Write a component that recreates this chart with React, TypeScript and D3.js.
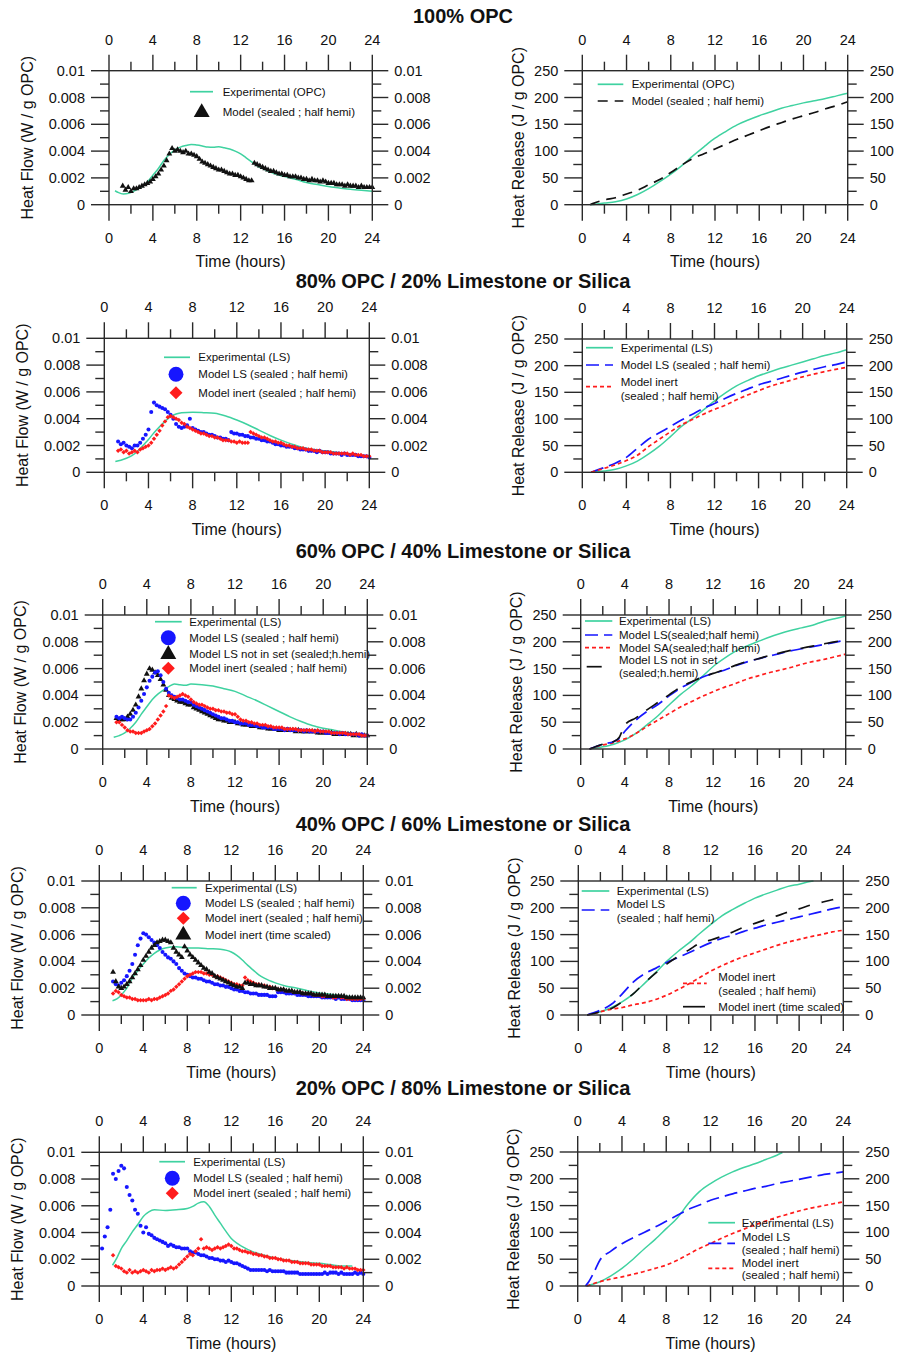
import React from "react";
import * as d3 from "d3";

const FONT = "Arial, 'Liberation Sans', Helvetica, sans-serif";
const GREEN = "#3fd2a0";
const BLUE = "#1616ff";
const RED = "#ff1c1c";
const BLACK = "#111111";
const AXIS = "#2a2a2a";

// ---------- axis ticks ----------
const HOUR_MAJOR = [0, 4, 8, 12, 16, 20, 24];
const HOUR_MINOR = [2, 6, 10, 14, 18, 22];
const FLOW_MAJOR = [0, 0.002, 0.004, 0.006, 0.008, 0.01];
const FLOW_LABELS = ["0", "0.002", "0.004", "0.006", "0.008", "0.01"];
const FLOW_MINOR = [0.001, 0.003, 0.005, 0.007, 0.009];
const REL_MAJOR = [0, 50, 100, 150, 200, 250];
const REL_LABELS = ["0", "50", "100", "150", "200", "250"];
const REL_MINOR = [25, 75, 125, 175, 225];

const TITLES = [
  "100% OPC",
  "80% OPC / 20% Limestone or Silica",
  "60% OPC / 40% Limestone or Silica",
  "40% OPC / 60% Limestone or Silica",
  "20% OPC / 80% Limestone or Silica",
];

// sampling times of model outputs (hours)
const HOURS = [
  0.25, 0.5, 0.75, 1, 1.25, 1.5, 1.75, 2, 2.25, 2.5, 2.75, 3, 3.25, 3.5, 3.75, 4,
  4.25, 4.5, 4.75, 5, 5.25, 5.5, 5.75, 6, 6.25, 6.5, 6.75, 7, 7.25, 7.5, 7.75, 8,
  8.25, 8.5, 8.75, 9, 9.25, 9.5, 9.75, 10, 10.25, 10.5, 10.75, 11, 11.25, 11.5, 11.75, 12,
  12.25, 12.5, 12.75, 13, 13.25, 13.5, 13.75, 14, 14.25, 14.5, 14.75, 15, 15.25, 15.5, 15.75, 16,
  16.25, 16.5, 16.75, 17, 17.25, 17.5, 17.75, 18, 18.25, 18.5, 18.75, 19, 19.25, 19.5, 19.75, 20,
  20.25, 20.5, 20.75, 21, 21.25, 21.5, 21.75, 22, 22.25, 22.5, 22.75, 23, 23.25, 23.5, 23.75, 24,
];

// ---------- heat flow, model outputs (units of 1e-4 W/g OPC), from 1.25 h unless noted ----------
const OPC100_MODEL = [
  14, 11, 13, 10, 12, 12, 13, 14, 15, 16, 17, 19, 21, 23, 26, 29, 33, 38, 42, 40, 41, 40, 39, 40,
  38, 38, 37, 36, 34, 32, 31, 30, 29, 28, 27, 26, 26, 25, 24, 23, 23, 22, 22, 21, 20, 19, 18, 18,
  31, 30, 29, 28, 27, 26, 25, 25, 24, 23, 23, 22, 22, 21, 21, 21, 20, 20, 19, 19, 18, 19, 18, 18,
  17, 18, 17, 16, 16, 16, 15, 15, 15, 14, 15, 14, 14, 14, 13, 14, 13, 13, 13, 13,
];
const OPC80_LS = [
  23, 21, 22, 20, 19, 18, 20, 20, 22, 25, 28, 32, 45, 52, 50, 49, 48, 47, 45, 43, 40, 36, 34, 33,
  34, 35, 40, 33, 32, 31, 30, 30, 29, 28, 28, 27, 26, 26, 25, 25, 24, 30, 29, 29, 28, 28, 27, 27,
  26, 26, 25, 25, 24, 24, 23, 23, 22, 21, 21, 20, 20, 19, 19, 19, 18, 18, 17, 17, 17, 16, 16, 16,
  15, 16, 15, 15, 15, 14, 14, 14, 14, 13, 14, 13, 13, 13, 13, 12, 12, 12, 12, 11,
];
const OPC80_INERT = [
  16, 17, 15, 16, 14, 15, 16, 15, 17, 18, 19, 20, 22, 25, 28, 31, 35, 38, 41, 42, 41, 40, 39, 37,
  36, 34, 33, 32, 31, 30, 29, 29, 28, 27, 27, 26, 26, 25, 24, 24, 24, 23, 23, 22, 23, 22, 22, 22,
  30, 29, 28, 27, 26, 26, 25, 24, 23, 23, 22, 22, 21, 20, 20, 19, 19, 18, 18, 18, 17, 17, 17, 16,
  16, 16, 15, 15, 15, 15, 14, 14, 14, 14, 14, 14, 13, 14, 13, 13, 13, 12, 12, 12,
];
const OPC60_LS = [
  24, 23, 24, 23, 22, 22, 24, 27, 31, 36, 41, 46, 51, 54, 57, 58, 55, 50, 45, 42, 40, 39, 38, 37,
  37, 36, 35, 35, 33, 32, 31, 30, 29, 28, 27, 26, 25, 24, 23, 23, 22, 21, 21, 20, 20, 19, 19, 19,
  18, 18, 18, 17, 17, 16, 16, 16, 16, 15, 15, 15, 15, 14, 15, 14, 14, 14, 14, 14, 13, 14, 13, 13,
  13, 13, 13, 13, 12, 12, 12, 12, 12, 11, 12, 11, 11, 11, 11, 11, 10, 11, 10, 10,
];
const OPC60_LS_NOTSET = [
  23, 22, 22, 22, 24, 26, 29, 33, 39, 45, 51, 56, 60, 59, 57, 55, 52, 48, 44, 40, 38, 37, 36, 35,
  35, 34, 33, 33, 31, 30, 29, 28, 27, 26, 25, 24, 23, 22, 22, 21, 21, 20, 20, 20, 19, 19, 18, 18,
  18, 17, 17, 17, 16, 16, 16, 15, 15, 15, 15, 14, 14, 14, 14, 14, 14, 13, 14, 13, 13, 13, 13, 13,
  13, 12, 12, 12, 12, 12, 12, 11, 11, 11, 11, 11, 11, 11, 10, 11, 10, 10, 10, 10,
];
const OPC60_INERT = [
  20, 20, 18, 16, 14, 13, 13, 12, 12, 12, 13, 14, 15, 17, 19, 22, 25, 28, 32, 40, 39, 38, 39, 40,
  41, 40, 39, 37, 35, 34, 33, 33, 32, 31, 30, 30, 29, 29, 28, 28, 27, 27, 26, 26, 24, 22, 21, 21,
  20, 20, 19, 19, 18, 18, 18, 17, 17, 16, 16, 16, 16, 15, 15, 15, 15, 15, 14, 14, 14, 14, 14, 14,
  13, 14, 13, 13, 13, 13, 12, 12, 12, 12, 12, 12, 11, 11, 11, 11, 11, 10, 10, 10,
];
const OPC40_LS = [
  25, 23, 22, 24, 26, 29, 33, 38, 45, 52, 57, 61, 60, 58, 56, 54, 52, 50, 47, 45, 43, 42, 40, 38,
  35, 33, 31, 30, 29, 28, 28, 27, 27, 26, 25, 25, 24, 23, 23, 22, 22, 21, 21, 20, 19, 19, 18, 18,
  17, 17, 16, 16, 16, 15, 15, 15, 15, 14, 14, 14, 17, 17, 17, 16, 16, 16, 16, 15, 15, 15, 15, 14,
  14, 14, 14, 14, 13, 13, 13, 13, 13, 12, 13, 12, 12, 12, 12, 11, 11, 11, 11, 11,
];
const OPC40_INERT = [
  16, 18, 17, 15, 14, 13, 13, 12, 12, 11, 11, 11, 11, 12, 11, 12, 12, 13, 14, 15, 16, 18, 19, 21,
  23, 25, 27, 29, 30, 31, 32, 32, 32, 31, 31, 30, 30, 29, 29, 28, 27, 26, 25, 24, 23, 23, 22, 22,
  28, 26, 25, 24, 23, 23, 22, 22, 21, 21, 20, 20, 19, 19, 19, 18, 18, 18, 17, 17, 17, 16, 16, 16,
  16, 15, 15, 15, 14, 14, 14, 14, 13, 13, 14, 13, 13, 12, 12, 12, 12, 12, 12, 12,
];
const OPC40_TIMESCALED = [
  32, 25, 21, 20, 21, 23, 25, 28, 31, 34, 37, 41, 44, 47, 50, 52, 54, 55, 56, 56, 55, 54, 50, 47,
  45, 43, 51, 48, 45, 43, 41, 39, 37, 35, 34, 32, 31, 29, 28, 27, 26, 25, 24, 23, 22, 21, 21, 20,
  24, 24, 23, 23, 22, 22, 22, 21, 21, 20, 20, 20, 19, 19, 19, 18, 18, 18, 17, 17, 17, 16, 16, 16,
  16, 15, 15, 15, 15, 15, 14, 14, 14, 14, 14, 14, 14, 13, 13, 13, 13, 13, 13, 13,
];
// starts at 0.25 h
const OPC20_LS = [
  28, 37, 44, 57, 84, 80, 86, 90, 88, 74, 68, 64, 57, 54, 45, 40, 44, 39, 38, 36, 35, 34, 33, 32,
  30, 31, 30, 29, 29, 28, 28, 28, 26, 25, 25, 24, 23, 23, 22, 21, 21, 20, 20, 19, 19, 18, 19, 18,
  17, 17, 16, 15, 14, 13, 12, 12, 12, 12, 12, 12, 11, 12, 11, 11, 11, 11, 11, 10, 10, 10, 10, 10,
  9, 9, 9, 9, 9, 9, 9, 9, 9, 10, 9, 10, 10, 10, 9, 10, 9, 9, 9, 9, 10, 9, 10, 9,
];
const OPC20_INERT = [
  23, 15, 14, 13, 11, 10, 12, 10, 11, 10, 11, 12, 11, 10, 12, 11, 12, 12, 13, 12, 13, 14, 13, 14,
  16, 18, 20, 22, 24, 23, 26, 28, 35, 28, 29, 28, 27, 28, 29, 28, 29, 30, 31, 30, 28, 28, 27, 26,
  26, 25, 25, 24, 24, 23, 23, 22, 22, 21, 21, 21, 20, 20, 19, 19, 19, 18, 18, 18, 17, 17, 17, 17,
  16, 16, 16, 16, 15, 15, 15, 15, 14, 14, 14, 14, 13, 14, 13, 13, 13, 12, 12, 12,
];

// ---------- heat flow, experimental (hour, 1e-4 W/g OPC) ----------
const EXP_FLOW_100: [number, number][] = [
  [0.55, 10.4], [0.8, 9.3], [1.3, 8], [1.8, 8.5], [2.5, 11], [3, 13.5], [3.5, 17], [4, 22], [4.5, 27],
  [5, 33], [5.5, 37.5], [6, 41], [6.5, 43], [7, 44.2], [7.5, 45], [8, 44.5], [8.5, 43.8], [9, 43],
  [9.5, 42.8], [10, 43.2], [10.5, 42.5], [11, 41.5], [11.5, 40], [12, 38], [12.5, 35], [13, 32],
  [13.5, 29], [14, 27], [15, 23.5], [16, 21], [17, 19], [18, 16.5], [19, 15], [20, 13.5], [21, 12.5],
  [22, 11.5], [23, 10.7], [24, 10],
];
const EXP_FLOW_80: [number, number][] = [
  [1, 8], [1.5, 9], [2, 10.5], [2.5, 12.5], [3, 15.5], [3.5, 20], [4, 24.5], [4.5, 29.5], [5, 34],
  [5.5, 38], [6, 41.5], [6.5, 43.5], [7, 44.5], [8, 44.8], [9, 44.5], [10, 44], [11, 42], [12, 39],
  [13, 35.5], [14, 31.5], [15, 27.5], [16, 24], [17, 21], [18, 18.5], [19, 17], [20, 16], [21, 15],
  [22, 14], [23, 12.5], [24, 11],
];
const EXP_FLOW_60: [number, number][] = [
  [1, 8.7], [1.5, 10], [2, 12], [2.5, 15.5], [3, 20], [3.5, 26], [4, 31.5], [4.5, 37], [5, 41],
  [5.5, 44], [6, 46.5], [6.5, 48.5], [7, 48], [7.5, 47.5], [8, 48.5], [9, 48], [10, 47], [11, 45],
  [12, 43], [13, 39.5], [14, 36], [15, 32], [16, 28], [17, 24], [18, 20.5], [19, 17.5], [20, 15.5],
  [21, 14], [22, 12.5], [23, 11.5], [24, 10.5],
];
const EXP_FLOW_40: [number, number][] = [
  [1.2, 10.7], [1.6, 12], [2, 15], [2.5, 20], [3, 27.5], [3.5, 33], [4, 38], [4.5, 42.5], [5, 46],
  [5.5, 48.5], [6, 50], [7, 51], [8, 50], [9, 50], [10, 49.5], [11, 49], [12, 47], [12.5, 44.5],
  [13, 41], [13.5, 37], [14, 33.5], [14.5, 30], [15, 27.5], [16, 24], [17, 21.5], [18, 20], [19, 18],
  [20, 16.5], [21, 15.5], [22, 14.5], [23, 13.5], [24, 13],
];
const EXP_FLOW_20: [number, number][] = [
  [1.2, 15.5], [1.6, 21], [2, 28], [2.5, 34], [3, 40.5], [3.5, 46], [4, 52], [4.5, 55.5], [5, 57],
  [6, 56.5], [7, 57], [8, 58], [8.5, 59.5], [9, 62], [9.5, 63], [10, 59.5], [10.5, 53], [11, 47],
  [11.5, 41], [12, 35.5], [12.5, 32], [13, 29.5], [14, 25.5], [15, 23], [16, 21], [17, 19.5],
  [18, 18.5], [19, 17.5], [20, 17], [21, 16], [22, 15], [23, 15],
];

// ---------- heat release (hour, J/g OPC) ----------
const REL100_EXP: [number, number][] = [
  [0.8, 0], [1, 0.5], [2, 3], [3, 5.6], [4, 10.6], [5, 19], [6, 30], [7, 43], [8, 57], [9, 73], [10, 91],
  [11, 108], [12, 124], [13, 137], [14, 149], [15, 158], [16, 166], [17, 173], [18, 180], [19, 185],
  [20, 190], [21, 194], [22, 198], [23, 203], [24, 208],
];
const REL100_MODEL: [number, number][] = [
  [0.7, 0], [1, 2.5], [2, 9], [3, 13], [4, 20], [5, 27], [6, 37], [7, 47], [8, 60], [9, 74], [10, 86],
  [11, 95], [12, 104], [13, 113], [14, 122], [15, 130], [16, 138], [17, 146], [18, 153], [19, 160],
  [20, 166], [21, 172], [22, 179], [23, 185], [24, 192],
];
const REL80_EXP: [number, number][] = [
  [0.8, 0], [2, 2.5], [3, 5.6], [4, 12], [5, 21], [6, 34], [7, 49], [8, 67], [9, 86], [10, 101],
  [11, 117], [12, 134], [13, 149], [14, 162], [15, 172], [16, 181], [17, 188], [18, 195], [19, 201],
  [20, 207], [21, 213], [22, 219], [23, 224], [24, 230],
];
const REL80_LS: [number, number][] = [
  [0.8, 0], [2, 9], [3, 17], [4, 28], [5, 45], [6, 62], [7, 74], [8, 86], [9, 98], [10, 109], [11, 120],
  [12, 129], [13, 139], [14, 148], [15, 156], [16, 164], [17, 170], [18, 176], [19, 182], [20, 188],
  [21, 193], [22, 198], [23, 202], [24, 207],
];
const REL80_INERT: [number, number][] = [
  [0.8, 0], [2, 7.5], [3, 14], [4, 22], [5, 32], [6, 48], [7, 62], [8, 76], [9, 89], [10, 99], [11, 109],
  [12, 118], [13, 126], [14, 136], [15, 145], [16, 153], [17, 161], [18, 167], [19, 173], [20, 179],
  [21, 184], [22, 189], [23, 193], [24, 197],
];
const REL60_EXP: [number, number][] = [
  [0.8, 0], [2, 4], [3, 9], [4, 17], [5, 29], [6, 45], [7, 62], [8, 82], [9, 101], [10, 117], [11, 135],
  [12, 154], [13, 169], [14, 182], [15, 192], [16, 200], [17, 208], [18, 215], [19, 221], [20, 226],
  [21, 231], [22, 238], [23, 243], [24, 248],
];
const REL60_LS: [number, number][] = [
  [0.8, 0], [2, 9], [3, 14], [3.5, 20], [4, 33], [5, 54], [6, 70], [7, 83], [8, 99], [9, 113], [10, 124],
  [11, 134], [12, 141], [13, 147], [14, 155], [15, 162], [16, 168], [17, 173], [18, 178], [19, 183],
  [20, 187], [21, 191], [22, 195], [23, 199], [24, 203],
];
const REL60_SA: [number, number][] = [
  [0.8, 0], [2, 7.5], [3, 12], [4, 19], [5, 29], [6, 42], [7, 54], [8, 66], [9, 78], [10, 88], [11, 98],
  [12, 107], [13, 115], [14, 122], [15, 130], [16, 136], [17, 142], [18, 147], [19, 152], [20, 158],
  [21, 163], [22, 167], [23, 172], [24, 177],
];
const REL60_LS_NOTSET: [number, number][] = [
  [0.8, 0], [2, 9], [3, 14], [3.5, 22], [4, 45], [5, 58], [6, 73], [7, 87], [8, 101], [9, 115], [10, 125],
  [11, 134], [12, 141], [13, 148], [14, 156], [15, 163], [16, 168], [17, 174], [18, 179], [19, 184],
  [20, 188], [21, 192], [22, 196], [23, 200], [24, 203],
];
const REL40_EXP: [number, number][] = [
  [0.8, 0], [2, 6], [3, 14], [4, 25], [5, 40], [6, 59], [7, 79], [8, 100], [9, 118], [10, 134], [11, 152],
  [12, 169], [13, 185], [14, 197], [15, 208], [16, 218], [17, 226], [18, 233], [19, 240], [20, 244],
  [21, 249], [21.3, 250],
];
const REL40_LS: [number, number][] = [
  [0.8, 0], [2, 9], [3, 20], [4, 40], [5, 62], [6, 77], [7, 87], [8, 98], [9, 107], [10, 116], [11, 126],
  [12, 135], [13, 143], [14, 149], [15, 156], [16, 162], [17, 168], [18, 173], [19, 178], [20, 183],
  [21, 188], [22, 193], [23, 198], [24, 202],
];
const REL40_INERT: [number, number][] = [
  [0.8, 0], [2, 6], [3, 11], [4, 14], [5, 19], [6, 23], [7, 29], [8, 37], [9, 47], [10, 58], [11, 70],
  [12, 82], [13, 92], [14, 101], [15, 109], [16, 116], [17, 123], [18, 130], [19, 136], [20, 141],
  [21, 146], [22, 150], [23, 155], [24, 158],
];
const REL40_TIMESCALED: [number, number][] = [
  [0.8, 0], [2, 6], [3, 12], [4, 25], [5, 40], [6, 60], [7, 78], [8, 95], [9, 109], [10, 121], [11, 134],
  [12, 140], [13, 147], [14, 155], [15, 164], [16, 171], [17, 178], [18, 185], [19, 192], [20, 198],
  [21, 205], [22, 210], [23, 215], [24, 218],
];
const REL20_EXP: [number, number][] = [
  [0.8, 0], [2, 8], [3, 19], [4, 33], [5, 50], [6, 69], [7, 87], [8, 107], [9, 127], [10, 154], [11, 176],
  [12, 191], [13, 203], [14, 213], [15, 221], [16, 228], [17, 236], [18, 244], [18.5, 249],
];
const REL20_LS: [number, number][] = [
  [0.7, 0], [1, 8], [1.5, 27], [2, 48], [3, 65], [4, 79], [5, 90], [6, 100], [7, 110], [8, 121], [9, 132],
  [10, 143], [11, 151], [12, 160], [13, 166], [14, 172], [15, 177], [16, 182], [17, 186], [18, 191],
  [19, 195], [20, 199], [21, 203], [22, 207], [23, 210], [24, 213],
];
const REL20_INERT: [number, number][] = [
  [0.8, 0], [2, 8], [3, 13], [4, 17], [5, 22], [6, 27], [7, 33], [8, 39], [9, 48], [10, 59], [11, 70],
  [12, 79], [13, 89], [14, 98], [15, 106], [16, 114], [17, 121], [18, 128], [19, 134], [20, 140],
  [21, 145], [22, 149], [23, 153], [24, 157],
];

// ---------- types ----------
type Shape = "circle" | "diamond" | "triangle";
type LineSeries = { data: [number, number][]; color: string; dash?: string; width?: number };
type ScatterSeries = { values: number[]; start: number; color: string; shape: Shape };
type LegendEntry = {
  sample:
    | { type: "line"; color: string; dash?: string; x1: number; x2: number; y: number }
    | { type: "marker"; shape: Shape; color: string; cx: number; cy: number };
  labels: [string, number, number][];
};
type PanelCfg = {
  kind: "flow" | "release";
  l: number; r: number; t: number; b: number;
  lines: LineSeries[];
  scatters: ScatterSeries[];
  legend: LegendEntry[];
};

const SYM: Record<Shape, d3.SymbolType> = {
  circle: d3.symbolCircle,
  diamond: d3.symbolSquare,
  triangle: d3.symbolTriangle,
};
const ROT: Record<Shape, number> = { circle: 0, diamond: 45, triangle: 0 };
const SMALL: Record<Shape, number> = { circle: 13, diamond: 10, triangle: 15 };
const BIG: Record<Shape, number> = { circle: 175, diamond: 85, triangle: 110 };

const line = (c: string, x1: number, x2: number, y: number, dash?: string) =>
  ({ type: "line" as const, color: c, x1, x2, y, dash });
const mark = (shape: Shape, c: string, cx: number, cy: number) =>
  ({ type: "marker" as const, shape, color: c, cx, cy });

const DASH_BLUE = "13 6";
const DASH_RED = "4 3";

const PANELS: PanelCfg[] = [
  {
    kind: "flow", l: 109, r: 372.3, t: 70.7, b: 204.7,
    lines: [{ data: EXP_FLOW_100, color: GREEN }],
    scatters: [{ values: OPC100_MODEL, start: 1.25, color: BLACK, shape: "triangle" }],
    legend: [
      { sample: line(GREEN, 190, 213, 91.7), labels: [["Experimental (OPC)", 222.7, 92]] },
      { sample: mark("triangle", BLACK, 201.7, 112.5), labels: [["Model (sealed ; half hemi)", 222.7, 112]] },
    ],
  },
  {
    kind: "release", l: 582.3, r: 847.7, t: 70.7, b: 204.7,
    lines: [
      { data: REL100_EXP, color: GREEN },
      { data: REL100_MODEL, color: BLACK, dash: "10 7" },
    ],
    scatters: [],
    legend: [
      { sample: line(GREEN, 597.7, 623.3, 84.3), labels: [["Experimental (OPC)", 631.7, 84.3]] },
      { sample: line(BLACK, 597.7, 623.3, 101, "10 7"), labels: [["Model (sealed ; half hemi)", 631.7, 101]] },
    ],
  },
  {
    kind: "flow", l: 104.3, r: 369.3, t: 338.3, b: 472.3,
    lines: [{ data: EXP_FLOW_80, color: GREEN }],
    scatters: [
      { values: OPC80_LS, start: 1.25, color: BLUE, shape: "circle" },
      { values: OPC80_INERT, start: 1.25, color: RED, shape: "diamond" },
    ],
    legend: [
      { sample: line(GREEN, 164, 190, 357.3), labels: [["Experimental (LS)", 198.3, 357.3]] },
      { sample: mark("circle", BLUE, 176, 374.3), labels: [["Model LS (sealed ; half hemi)", 198.3, 374.3]] },
      { sample: mark("diamond", RED, 176, 392.7), labels: [["Model inert (sealed ; half hemi)", 198.3, 392.7]] },
    ],
  },
  {
    kind: "release", l: 582.3, r: 846.7, t: 339, b: 472.3,
    lines: [
      { data: REL80_EXP, color: GREEN },
      { data: REL80_LS, color: BLUE, dash: DASH_BLUE },
      { data: REL80_INERT, color: RED, dash: DASH_RED },
    ],
    scatters: [],
    legend: [
      { sample: line(GREEN, 586, 613, 347.7), labels: [["Experimental (LS)", 620.7, 347.7]] },
      { sample: line(BLUE, 586, 613, 365, DASH_BLUE), labels: [["Model LS (sealed ; half hemi)", 620.7, 365]] },
      {
        sample: line(RED, 586, 613, 386.7, DASH_RED),
        labels: [["Model inert", 620.7, 382.3], ["(sealed ; half hemi)", 620.7, 395.7]],
      },
    ],
  },
  {
    kind: "flow", l: 102.7, r: 367.3, t: 615, b: 749,
    lines: [{ data: EXP_FLOW_60, color: GREEN }],
    scatters: [
      { values: OPC60_LS_NOTSET, start: 1.25, color: BLACK, shape: "triangle" },
      { values: OPC60_LS, start: 1.25, color: BLUE, shape: "circle" },
      { values: OPC60_INERT, start: 1.25, color: RED, shape: "diamond" },
    ],
    legend: [
      { sample: line(GREEN, 155, 181.7, 621.7), labels: [["Experimental (LS)", 189.3, 621.7]] },
      { sample: mark("circle", BLUE, 168.3, 637.7), labels: [["Model LS (sealed ; half hemi)", 189.3, 637.7]] },
      { sample: mark("triangle", BLACK, 168.3, 654.3), labels: [["Model LS not in set (sealed;h.hemi)", 189.3, 654.3]] },
      { sample: mark("diamond", RED, 168.3, 668.3), labels: [["Model inert (sealed ; half hemi)", 189.3, 668.3]] },
    ],
  },
  {
    kind: "release", l: 580.7, r: 845.7, t: 615, b: 749,
    lines: [
      { data: REL60_EXP, color: GREEN },
      { data: REL60_SA, color: RED, dash: DASH_RED },
      { data: REL60_LS, color: BLUE, dash: DASH_BLUE },
      { data: REL60_LS_NOTSET, color: BLACK, dash: "14 10" },
    ],
    scatters: [],
    legend: [
      { sample: line(GREEN, 585, 612.3, 621), labels: [["Experimental (LS)", 619, 621]] },
      { sample: line(BLUE, 585, 612.3, 635, DASH_BLUE), labels: [["Model LS(sealed;half hemi)", 619, 635]] },
      { sample: line(RED, 585, 612.3, 647.7, DASH_RED), labels: [["Model SA(sealed;half hemi)", 619, 647.7]] },
      {
        sample: line(BLACK, 586.7, 601.7, 666.7),
        labels: [["Model LS not in set", 619, 660], ["(sealed;h.hemi)", 619, 673.3]],
      },
    ],
  },
  {
    kind: "flow", l: 99.3, r: 363.3, t: 881, b: 1015,
    lines: [{ data: EXP_FLOW_40, color: GREEN }],
    scatters: [
      { values: OPC40_LS, start: 1.25, color: BLUE, shape: "circle" },
      { values: OPC40_INERT, start: 1.25, color: RED, shape: "diamond" },
      { values: OPC40_TIMESCALED, start: 1.25, color: BLACK, shape: "triangle" },
    ],
    legend: [
      { sample: line(GREEN, 171.7, 196.7, 887.7), labels: [["Experimental (LS)", 205, 887.7]] },
      { sample: mark("circle", BLUE, 183.3, 903.3), labels: [["Model LS (sealed ; half hemi)", 205, 903.3]] },
      { sample: mark("diamond", RED, 183.3, 918.3), labels: [["Model inert (sealed ; half hemi)", 205, 918.3]] },
      { sample: mark("triangle", BLACK, 183.3, 935), labels: [["Model inert (time scaled)", 205, 935]] },
    ],
  },
  {
    kind: "release", l: 578.3, r: 843.3, t: 881, b: 1015,
    lines: [
      { data: REL40_EXP, color: GREEN },
      { data: REL40_INERT, color: RED, dash: DASH_RED },
      { data: REL40_LS, color: BLUE, dash: DASH_BLUE },
      { data: REL40_TIMESCALED, color: BLACK, dash: "12 12" },
    ],
    scatters: [],
    legend: [
      { sample: line(GREEN, 581.7, 609.3, 891), labels: [["Experimental (LS)", 616.7, 891]] },
      {
        sample: line(BLUE, 581.7, 609.3, 910, DASH_BLUE),
        labels: [["Model LS", 616.7, 904.3], ["(sealed ; half hemi)", 616.7, 918.3]],
      },
      {
        sample: line(RED, 683, 706.7, 983.3, DASH_RED),
        labels: [["Model inert", 718.3, 976.7], ["(sealed ; half hemi)", 718.3, 990.7]],
      },
      { sample: line(BLACK, 683, 705, 1006.7), labels: [["Model inert (time scaled)", 718.3, 1006.7]] },
    ],
  },
  {
    kind: "flow", l: 99.3, r: 363.3, t: 1152.3, b: 1286,
    lines: [{ data: EXP_FLOW_20, color: GREEN }],
    scatters: [
      { values: OPC20_LS, start: 0.25, color: BLUE, shape: "circle" },
      { values: OPC20_INERT, start: 1.25, color: RED, shape: "diamond" },
    ],
    legend: [
      { sample: line(GREEN, 159.3, 185, 1161.7), labels: [["Experimental (LS)", 193.3, 1161.7]] },
      { sample: mark("circle", BLUE, 172.3, 1178.3), labels: [["Model LS (sealed ; half hemi)", 193.3, 1178.3]] },
      { sample: mark("diamond", RED, 172.3, 1193.3), labels: [["Model inert (sealed ; half hemi)", 193.3, 1193.3]] },
    ],
  },
  {
    kind: "release", l: 577.7, r: 843.3, t: 1152, b: 1286,
    lines: [
      { data: REL20_EXP, color: GREEN },
      { data: REL20_INERT, color: RED, dash: DASH_RED },
      { data: REL20_LS, color: BLUE, dash: DASH_BLUE },
    ],
    scatters: [],
    legend: [
      { sample: line(GREEN, 708.3, 735, 1222.7), labels: [["Experimental (LS)", 741.7, 1222.7]] },
      {
        sample: line(BLUE, 708.3, 735, 1243.3, DASH_BLUE),
        labels: [["Model LS", 741.7, 1237.3], ["(sealed ; half hemi)", 741.7, 1250]],
      },
      {
        sample: line(RED, 708.3, 735, 1268.3, DASH_RED),
        labels: [["Model inert", 741.7, 1262.7], ["(sealed ; half hemi)", 741.7, 1275]],
      },
    ],
  },
];

const TITLE_Y = [16, 281, 551, 824, 1088];

function Symbol({ shape, color, cx, cy, size }: { shape: Shape; color: string; cx: number; cy: number; size: number }) {
  const d = d3.symbol().type(SYM[shape]).size(size)() || "";
  return <path d={d} transform={`translate(${cx},${cy}) rotate(${ROT[shape]})`} fill={color} />;
}

function Panel({ cfg }: { cfg: PanelCfg }) {
  const { l, r, t, b, kind } = cfg;
  const flow = kind === "flow";
  const x = d3.scaleLinear().domain([0, 24]).range([l, r]);
  const y = d3.scaleLinear().domain(flow ? [0, 0.01] : [0, 250]).range([b, t]);
  const unit = flow ? 1e-4 : 1;
  const yMajor = flow ? FLOW_MAJOR : REL_MAJOR;
  const yLabels = flow ? FLOW_LABELS : REL_LABELS;
  const yMinor = flow ? FLOW_MINOR : REL_MINOR;
  const gen = d3
    .line<[number, number]>()
    .x((d) => x(d[0]))
    .y((d) => y(d[1] * unit))
    .curve(d3.curveMonotoneX);
  const MAJ = 16;
  const MIN = 9;
  const sw = 1.4;
  const tickFont = { fontFamily: FONT, fontSize: 14.5, fill: "#111" } as const;
  const cxm = (l + r) / 2;
  const cym = (t + b) / 2;
  return (
    <g>
      {/* data */}
      {cfg.lines.map((s, i) => (
        <path key={"l" + i} d={gen(s.data) || ""} fill="none" stroke={s.color}
          strokeWidth={s.width ?? (s.dash ? 1.7 : 1.5)} strokeDasharray={s.dash} />
      ))}
      {cfg.scatters.map((s, i) => {
        const i0 = HOURS.indexOf(s.start);
        return (
          <g key={"s" + i}>
            {s.values.map((v, j) =>
              i0 + j < HOURS.length ? (
                <Symbol key={j} shape={s.shape} color={s.color} cx={x(HOURS[i0 + j])} cy={y(v * unit)} size={SMALL[s.shape]} />
              ) : null
            )}
          </g>
        );
      })}
      {/* frame */}
      <rect x={l} y={t} width={r - l} height={b - t} fill="none" stroke={AXIS} strokeWidth={sw} />
      {HOUR_MAJOR.map((h) => (
        <g key={"hx" + h}>
          <line x1={x(h)} x2={x(h)} y1={t} y2={t - MAJ} stroke={AXIS} strokeWidth={sw} />
          <line x1={x(h)} x2={x(h)} y1={b} y2={b + MAJ} stroke={AXIS} strokeWidth={sw} />
          <text x={x(h)} y={t - 31} textAnchor="middle" dominantBaseline="central" {...tickFont}>{h}</text>
          <text x={x(h)} y={b + 33} textAnchor="middle" dominantBaseline="central" {...tickFont}>{h}</text>
        </g>
      ))}
      {HOUR_MINOR.map((h) => (
        <g key={"hm" + h}>
          <line x1={x(h)} x2={x(h)} y1={t} y2={t - MIN} stroke={AXIS} strokeWidth={sw} />
          <line x1={x(h)} x2={x(h)} y1={b} y2={b + MIN} stroke={AXIS} strokeWidth={sw} />
        </g>
      ))}
      {yMajor.map((v, i) => (
        <g key={"ym" + i}>
          <line x1={l} x2={l - 18} y1={y(v)} y2={y(v)} stroke={AXIS} strokeWidth={sw} />
          <line x1={r} x2={r + MAJ} y1={y(v)} y2={y(v)} stroke={AXIS} strokeWidth={sw} />
          <text x={l - 24} y={y(v)} textAnchor="end" dominantBaseline="central" {...tickFont}>{yLabels[i]}</text>
          <text x={r + 22} y={y(v)} textAnchor="start" dominantBaseline="central" {...tickFont}>{yLabels[i]}</text>
        </g>
      ))}
      {yMinor.map((v, i) => (
        <g key={"yn" + i}>
          <line x1={l} x2={l - MIN} y1={y(v)} y2={y(v)} stroke={AXIS} strokeWidth={sw} />
          <line x1={r} x2={r + MIN} y1={y(v)} y2={y(v)} stroke={AXIS} strokeWidth={sw} />
        </g>
      ))}
      <text x={cxm} y={b + 57} textAnchor="middle" dominantBaseline="central"
        fontFamily={FONT} fontSize={16} fill="#111">Time (hours)</text>
      <text transform={`translate(${flow ? l - 82 : l - 64},${cym}) rotate(-90)`} textAnchor="middle"
        dominantBaseline="central" fontFamily={FONT} fontSize={16} fill="#111">
        {flow ? "Heat Flow (W / g OPC)" : "Heat Release (J / g OPC)"}
      </text>
      {/* legend */}
      {cfg.legend.map((e, i) => (
        <g key={"lg" + i}>
          {e.sample.type === "line" ? (
            <line x1={e.sample.x1} x2={e.sample.x2} y1={e.sample.y} y2={e.sample.y}
              stroke={e.sample.color} strokeWidth={1.7} strokeDasharray={e.sample.dash} />
          ) : (
            <Symbol shape={e.sample.shape} color={e.sample.color} cx={e.sample.cx} cy={e.sample.cy}
              size={BIG[e.sample.shape]} />
          )}
          {e.labels.map(([s, lx, ly], k) => (
            <text key={k} x={lx} y={ly} dominantBaseline="central" fontFamily={FONT} fontSize={11.5} fill="#111">{s}</text>
          ))}
        </g>
      ))}
    </g>
  );
}

export default function App() {
  return (
    <svg width={900} height={1355} viewBox="0 0 900 1355"
      style={{ position: "absolute", left: 0, top: 0, background: "#fff", display: "block" }}>
      <rect width={900} height={1355} fill="#fff" />
      {TITLES.map((s, i) => (
        <text key={s} x={463} y={TITLE_Y[i]} textAnchor="middle" dominantBaseline="central"
          fontFamily={FONT} fontWeight="bold" fontSize={20} fill="#111">{s}</text>
      ))}
      {PANELS.map((p, i) => (
        <Panel key={i} cfg={p} />
      ))}
    </svg>
  );
}
